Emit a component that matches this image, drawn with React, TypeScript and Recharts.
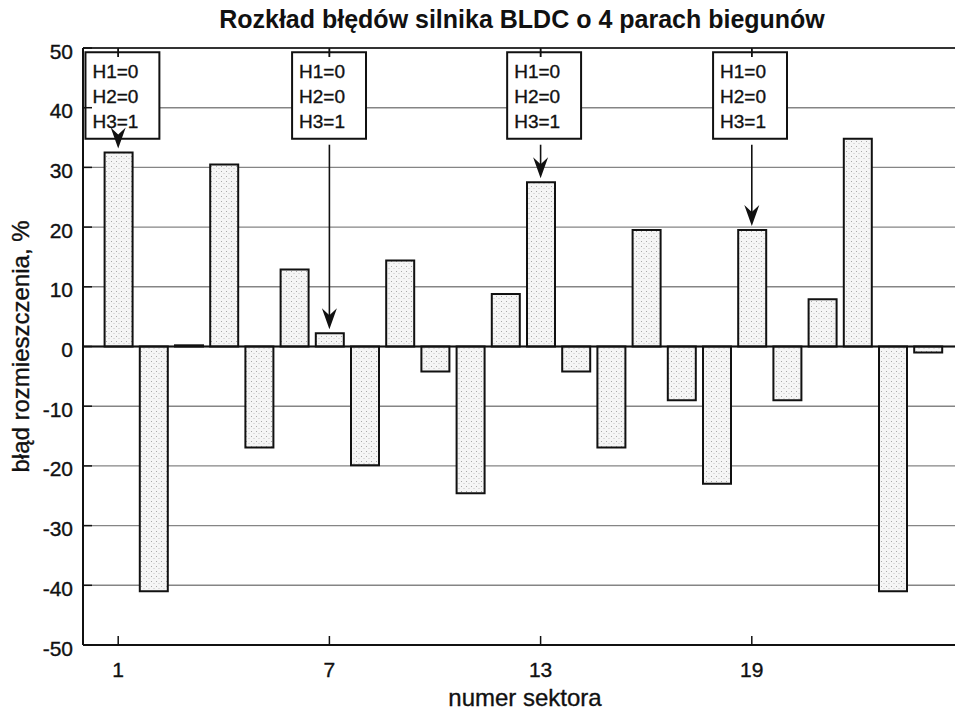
import React from 'react';
import {
  BarChart,
  Bar,
  XAxis,
  YAxis,
  CartesianGrid,
  ReferenceLine,
  ReferenceArea,
} from 'recharts';

const sectors = [1, 2, 3, 4, 5, 6, 7, 8, 9, 10, 11, 12, 13, 14, 15, 16, 17, 18, 19, 20, 21, 22, 23, 24];
const errors = [32.5, -41, 0.2, 30.5, -16.9, 12.9, 2.2, -19.9, 14.4, -4.2, -24.6, 8.8, 27.5, -4.2, -16.9, 19.5, -9, -23, 19.5, -9, 7.9, 34.8, -41, -1];
const xTicks = [1, 7, 13, 19];
const yTicks = [-50, -40, -30, -20, -10, 0, 10, 20, 30, 40, 50];
const annotatedSectors = [1, 7, 13, 19];
const annotationBoxCenters = [1.12, 6.99, 13.1, 18.95];
const annotationLines = ['H1=0', 'H2=0', 'H3=1'];
const title = 'Rozkład błędów silnika BLDC o 4 parach biegunów';
const xLabel = 'numer sektora';
const yLabel = 'błąd rozmieszczenia, %';

const BOX_TOP = 49.3;
const BOX_BOTTOM = 34.8;
const ARROW_START = 33.8;
const BOX_HALF = 1.05;
const Y_MAX = 50;
const TOP_TICK_END = 48.5;

const data = sectors.map((s, i) => ({ sector: s, error: errors[i] }));
const FONT = '"Liberation Sans", Arial, Helvetica, sans-serif';
const INK = { fill: '#111', stroke: '#111', strokeWidth: 0.35 };

const YTick = (p: any) => (
  <text x={p.x} y={p.y + 3} textAnchor="end" dominantBaseline="central" fontSize={21} fontFamily={FONT} {...INK}>
    {p.payload.value}
  </text>
);

const XTick = (p: any) => (
  <text x={p.x} y={p.y + 15} textAnchor="middle" fontSize={21} fontFamily={FONT} {...INK}>
    {p.payload.value}
  </text>
);

const NoTick = () => <g />;

const Arrow = (p: any) => {
  const x = p.x1;
  const tip = p.y2 - 4;
  return (
    <g>
      <line x1={x} y1={p.y1} x2={x} y2={tip - 10} stroke="#111" strokeWidth={1.6} />
      <path d={`M${x},${tip} L${x - 7.5},${tip - 21} L${x},${tip - 14} L${x + 7.5},${tip - 21} Z`} fill="#111" />
    </g>
  );
};

const BoxText = (p: any) => {
  const vb = p.viewBox || {};
  return (
    <g>
      {annotationLines.map((t, i) => (
        <text
          key={t}
          x={vb.x + 7}
          y={vb.y + 19 + i * 25 + 7}
          fontSize={19}
          fontFamily={FONT}
          {...INK}
        >
          {t}
        </text>
      ))}
    </g>
  );
};

export default function App() {
  return (
    <div style={{ width: 955, height: 717, overflow: 'hidden', position: 'relative', background: '#fff' }}>
      <style>{`body{margin:0;background:#fff}`}</style>
      <BarChart
        width={965}
        height={717}
        data={data}
        margin={{ top: 47, right: 2, left: 0, bottom: 0 }}
      >
        <defs>
          <pattern id="dots" width="5" height="5" patternUnits="userSpaceOnUse">
            <rect width="5" height="5" fill="#f5f5f5" />
            <rect x="1" y="1" width="1" height="1" fill="#a8a8a8" />
            <rect x="3.5" y="3" width="1" height="1" fill="#c4c4c4" />
          </pattern>
        </defs>
        <CartesianGrid vertical={false} stroke="#858585" strokeWidth={1.4} />
        <XAxis
          xAxisId="top"
          orientation="top"
          type="number"
          dataKey="sector"
          domain={[0, 25]}
          ticks={xTicks}
          interval={0}
          tick={NoTick}
          height={1}
          tickSize={-9}
          axisLine={{ stroke: '#333', strokeWidth: 2 }}
          tickLine={{ stroke: '#111', strokeWidth: 1.5 }}
          allowDataOverflow
        />
        <XAxis
          type="number"
          dataKey="sector"
          domain={[0, 25]}
          ticks={xTicks}
          interval={0}
          height={72}
          tickSize={-9}
          tickMargin={26}
          tick={XTick}
          axisLine={{ stroke: '#111', strokeWidth: 2 }}
          tickLine={{ stroke: '#111', strokeWidth: 1.5 }}
          allowDataOverflow
          label={(p: any) => {
            const vb = p.viewBox || {};
            const cx = vb.x + vb.width / 2;
            return (
              <g>
                <text x={cx + 2} y={706} textAnchor="middle" fontSize={24} fontFamily={FONT} {...INK}>
                  {xLabel}
                </text>
                <text x={cx - 1} y={28} textAnchor="middle" fontSize={25} fontWeight="bold" fontFamily={FONT} fill="#111">
                  {title}
                </text>
              </g>
            );
          }}
        />
        <YAxis
          type="number"
          domain={[-50, 50]}
          ticks={yTicks}
          interval={0}
          width={83}
          tickSize={-9}
          tickMargin={19}
          tick={YTick}
          axisLine={{ stroke: '#111', strokeWidth: 2 }}
          tickLine={{ stroke: '#111', strokeWidth: 1.5 }}
          label={(p: any) => {
            const vb = p.viewBox || {};
            const cy = (vb.y || 48) + (vb.height || 597) / 2;
            return (
              <text x={29} y={cy} transform={`rotate(-90 29 ${cy})`} textAnchor="middle" fontSize={24} fontFamily={FONT} {...INK}>
                {yLabel}
              </text>
            );
          }}
        />
        <Bar
          dataKey="error"
          barSize={28}
          fill="url(#dots)"
          stroke="#111"
          strokeWidth={2}
          isAnimationActive={false}
        />
        <ReferenceLine y={0} stroke="#111" strokeWidth={2} />
        {annotatedSectors.map((s, i) => (
          <ReferenceArea
            key={`box-${s}`}
            x1={annotationBoxCenters[i] - BOX_HALF}
            x2={annotationBoxCenters[i] + BOX_HALF}
            y1={BOX_BOTTOM}
            y2={BOX_TOP}
            fill="#fff"
            fillOpacity={1}
            stroke="#111"
            strokeWidth={2}
            label={BoxText}
          />
        ))}
        {annotatedSectors.map((s) => (
          <ReferenceLine
            key={`arrow-${s}`}
            segment={[
              { x: s, y: ARROW_START },
              { x: s, y: errors[sectors.indexOf(s)] },
            ]}
            shape={Arrow}
          />
        ))}
        {xTicks.map((t) => (
          <ReferenceLine
            key={`toptick-${t}`}
            segment={[
              { x: t, y: Y_MAX },
              { x: t, y: TOP_TICK_END },
            ]}
            stroke="#111"
            strokeWidth={1.5}
          />
        ))}
      </BarChart>
    </div>
  );
}
